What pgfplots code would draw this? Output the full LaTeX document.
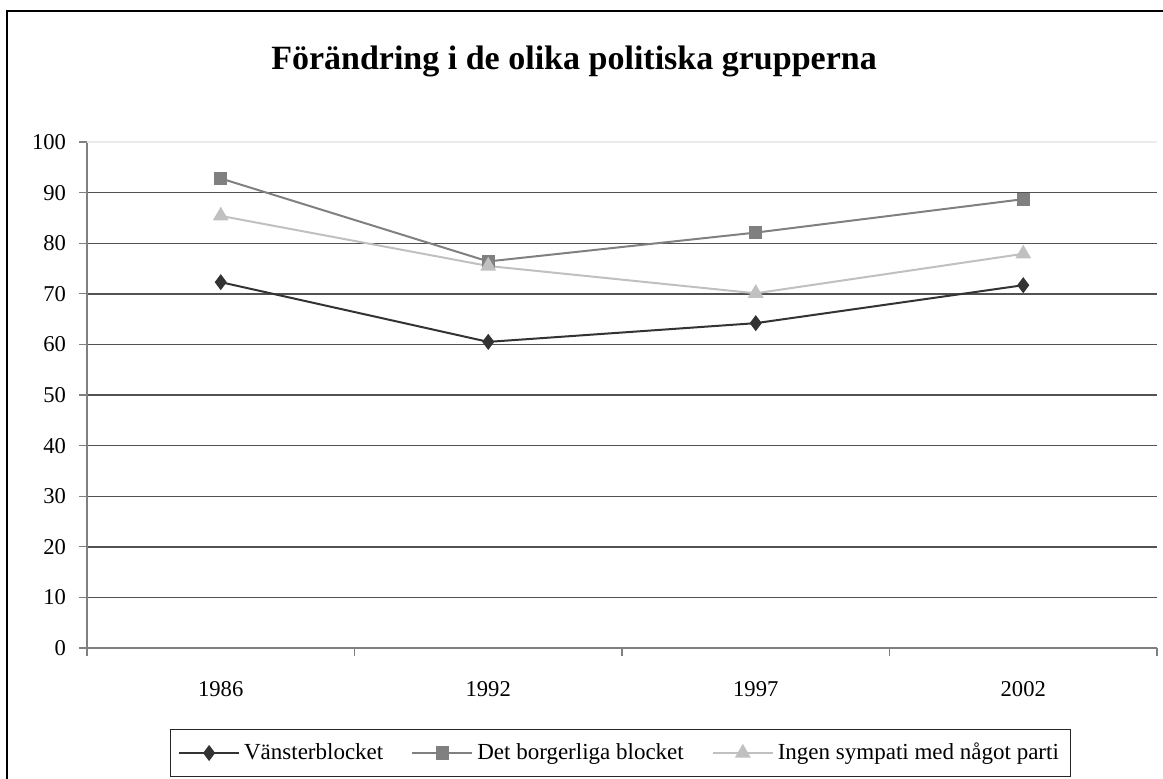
\documentclass[border=0pt]{standalone}
\usepackage{fontspec}
\setmainfont{Liberation Serif}
\usepackage{pgfplots}
\pgfplotsset{compat=1.18}
\definecolor{c1}{HTML}{333333}
\definecolor{c2}{HTML}{808080}
\definecolor{c3}{HTML}{C0C0C0}
\begin{document}
\begin{tikzpicture}[x=1pt,y=1pt]
\useasboundingbox (0,0) rectangle (581.5,-389);
\clip (0,0) rectangle (581.5,-389);
\draw[black, line width=1pt] (3.5,-5.5) rectangle (700,-500);
\node[font=\fontsize{17}{20}\selectfont\bfseries, anchor=base] at (287,-34.5) {Förändring i de olika politiska grupperna};
\begin{axis}[
  scale only axis, width=535pt, height=253pt,
  at={(43.5pt,-324pt)}, anchor=south west,
  xmin=0.5, xmax=4.5, ymin=0, ymax=100,
  axis lines*=left,
  axis line style={c2, line width=0.8pt},
  tick align=outside,
  major tick length=4pt,
  tick style={c2, line width=0.6pt},
  xtick={0.5,1.5,2.5,3.5,4.5},
  x tick label as interval,
  xticklabels={1986,1992,1997,2002},
  ytick={0,10,...,90},
  extra y ticks={100},
  extra y tick style={grid=none},
  ymajorgrids,
  major grid style={black!68, line width=0.7pt},
  ticklabel style={font=\fontsize{11.3}{13}\selectfont},
  /pgf/number format/assume math mode=true,
  xticklabel style={yshift=-9pt},
  yticklabel style={xshift=-3pt},
  clip=false,
  legend columns=-1,
  legend style={at={(0.4986,-0.2075)}, anchor=center, draw=black!85, line width=0.6pt,
    font=\fontsize{11.5}{13}\selectfont, inner xsep=4pt, inner ysep=5pt,
    /tikz/every even column/.append style={column sep=12pt},
    nodes={inner xsep=2pt}},
  legend image code/.code={\draw[mark repeat=2,mark phase=2] plot coordinates {(0pt,0pt) (15pt,0pt) (30pt,0pt)};},
]
\draw[black!8, line width=0.7pt] (axis cs:0.5,100) -- (axis cs:4.5,100);
\addplot[c1, line width=1pt, mark=diamond*, mark size=3.2pt, mark options={fill=c1, draw=c1}] coordinates {(1,72.3) (2,60.5) (3,64.2) (4,71.7)};
\addlegendentry{Vänsterblocket}
\addplot[c2, line width=1pt, mark=square*, mark size=2.8pt, mark options={fill=c2, draw=c2}] coordinates {(1,92.8) (2,76.4) (3,82.1) (4,88.7)};
\addlegendentry{Det borgerliga blocket}
\addplot[c3, line width=1pt, mark=triangle*, mark size=3.6pt, mark options={fill=c3, draw=c3}] coordinates {(1,85.4) (2,75.5) (3,70.1) (4,77.9)};
\addlegendentry{Ingen sympati med något parti}
\end{axis}
\end{tikzpicture}
\end{document}
